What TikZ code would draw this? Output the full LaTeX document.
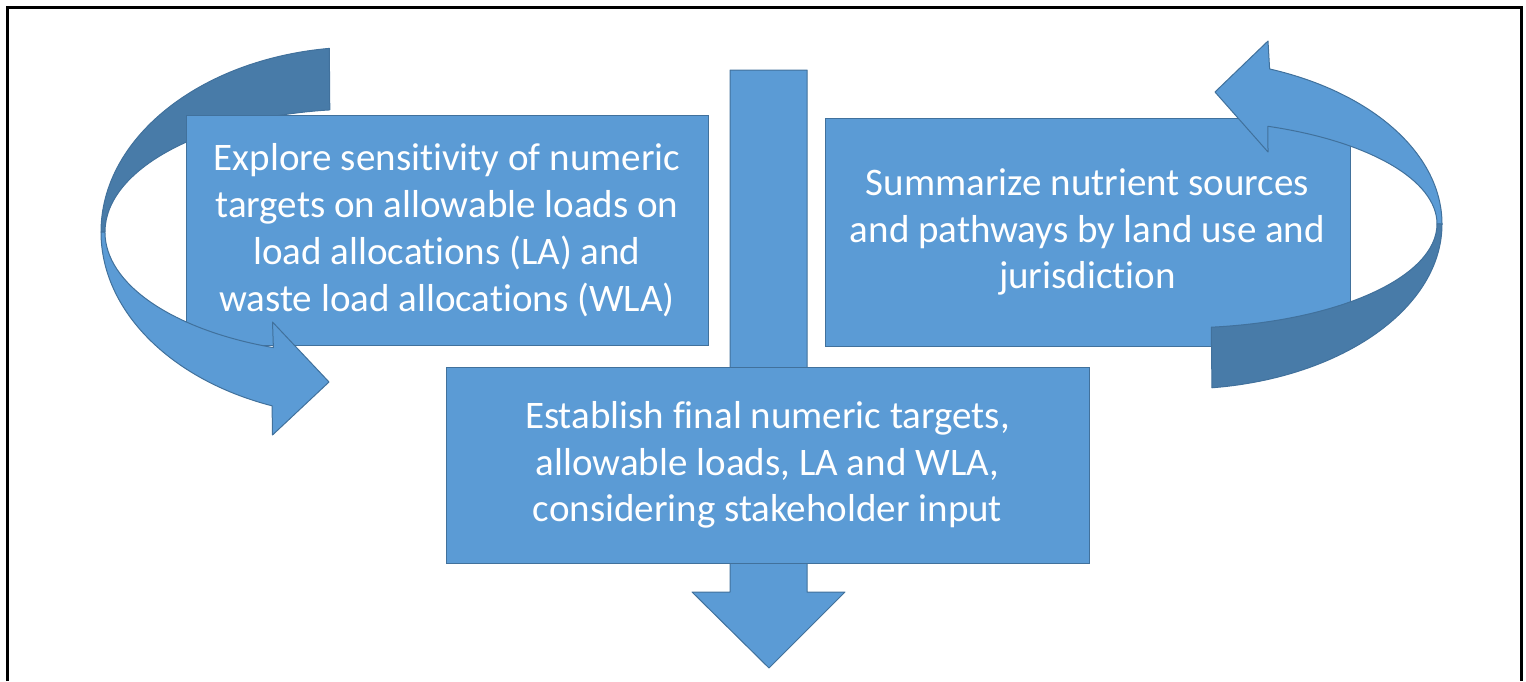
\documentclass[tikz,border=0pt]{standalone}
\usepackage{fontspec}
\setmainfont{Carlito}[Ligatures=NoCommon]
\usepackage{xcolor}
\definecolor{boxblue}{RGB}{91,155,213}
\definecolor{edgeblue}{RGB}{65,113,156}
\definecolor{backblue}{RGB}{72,123,168}
\usetikzlibrary{positioning}

\begin{document}
\begin{tikzpicture}
[x=0.5pt, y=-0.5pt,
 every node/.style={font=\fontsize{19.5}{23.4}\selectfont, text=white},
 task/.style={draw=edgeblue, fill=boxblue, line width=0.5pt, align=center, inner sep=0pt},
 band/.style={draw=edgeblue, line width=0.5pt, line join=round},
]

\useasboundingbox (0,0) rectangle (1526,681);
\draw[line width=1.5pt] (7.5,681) -- (7.5,7) -- (1521,7) -- (1521,681);

\filldraw[band, fill=boxblue] (730,70) -- (807,70) -- (807,592) -- (845,592)
  -- (769,668) -- (692,592) -- (730,592) -- cycle;

\filldraw[band, fill=backblue] (361,232) ++(263:260 and 185)
  arc[start angle=263, end angle=180, x radius=260, y radius=185] -- (105,232)
  arc[start angle=180, end angle=263, x radius=256, y radius=123] -- cycle;

\node[task, minimum width=261pt, minimum height=115pt] (explore) at (447,230)
  {Explore sensitivity of numeric\\targets on allowable loads on\\load allocations (LA) and\\waste load allocations (WLA)};
\node[task, minimum width=262.5pt, minimum height=114pt] (summarize) at (1087.5,232)
  {Summarize nutrient sources\\and pathways by land use and\\jurisdiction};
\node[task, minimum width=321.5pt, minimum height=98pt] (establish) at (767.5,465)
  {Establish final numeric targets,\\allowable loads, LA and WLA,\\considering stakeholder input};

\filldraw[band, fill=boxblue] (101,232)
  arc[start angle=180, end angle=110, x radius=260, y radius=185] -- (272.5,435)
  -- (329,382) -- (272.5,322) -- (273.4,347.6)
  arc[start angle=110, end angle=180, x radius=256, y radius=123] -- cycle;

\filldraw[band, fill=boxblue] (1180,224) ++(-70:262 and 165)
  arc[start angle=-70, end angle=0, x radius=262, y radius=165] -- (1437,224)
  arc[start angle=0, end angle=-70, x radius=257, y radius=104] -- (1268,152)
  -- (1215,92) -- (1268,41) -- cycle;
\filldraw[band, fill=backblue] (1442,224)
  arc[start angle=0, end angle=83, x radius=262, y radius=165] -- (1211.3,327.2)
  arc[start angle=83, end angle=0, x radius=257, y radius=104] -- cycle;
\end{tikzpicture}
\end{document}
